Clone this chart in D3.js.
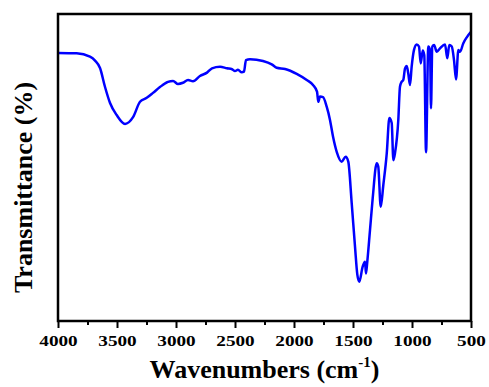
<!DOCTYPE html>
<html>
<head>
<meta charset="utf-8">
<script src="https://cdn.jsdelivr.net/npm/d3@7"></script>
<style>
  body { margin: 0; background: #fff; }
  text { font-family: "Liberation Serif", "Times New Roman", serif; font-weight: bold; }
</style>
</head>
<body>
<svg id="chart" width="489" height="387"></svg>
<script>
// FTIR spectrum
const wavenumbers = [4000, 3842, 3729, 3686, 3644, 3602, 3559, 3503, 3432, 3364, 3305, 3248, 3195, 3136,
  3068, 3025, 2983, 2941, 2898, 2856, 2797, 2737, 2695, 2627, 2568, 2525, 2500, 2475, 2443, 2424,
  2407, 2373, 2263, 2189, 2147, 2076, 1977, 1892, 1839, 1805, 1794, 1780, 1754, 1723, 1695, 1669,
  1638, 1596, 1562, 1540, 1511, 1483, 1463, 1447, 1418, 1398, 1390, 1379, 1356, 1333, 1299, 1286,
  1265, 1243, 1214, 1192, 1172, 1158, 1144, 1116, 1102, 1088, 1074, 1059, 1045, 1032, 1017, 1003,
  983, 960, 941, 926, 909, 896, 881, 862, 847, 839, 828, 813, 790, 763, 720, 701, 684, 663, 644,
  627, 607, 593, 565, 536, 500];
const transmittance = [87.3, 87.2, 86.1, 84.8, 82.4, 76.3, 71.0, 67.1, 64.2, 66.4, 71.4, 72.7, 74.3, 76.2,
  77.9, 78.2, 77.2, 77.6, 78.5, 78.1, 79.8, 80.9, 82.3, 82.8, 82.3, 82.0, 81.4, 81.8, 81.0, 81.2,
  85.0, 85.3, 84.7, 83.6, 82.5, 82.1, 80.5, 78.5, 76.9, 74.7, 71.4, 73.1, 72.9, 69.8, 65.5, 60.0,
  55.1, 51.9, 53.5, 51.9, 38.4, 24.2, 15.0, 12.8, 17.7, 19.3, 15.5, 19.3, 29.6, 40.0, 51.4, 50.3,
  37.2, 44.3, 54.6, 66.1, 64.5, 52.4, 54.7, 65.5, 76.3, 77.9, 78.5, 82.3, 83.1, 80.7, 76.9, 82.8,
  88.3, 90.1, 89.4, 83.9, 88.1, 86.6, 55.0, 89.4, 88.3, 69.3, 89.4, 89.9, 87.7, 88.8, 90.1, 85.6,
  89.9, 89.4, 85.0, 78.7, 88.3, 87.7, 90.5, 92.4, 94.2];
const majorTicks = [4000, 3500, 3000, 2500, 2000, 1500, 1000, 500];
const minorTicks = [3750, 3250, 2750, 2250, 1750, 1250, 750];

const data = wavenumbers.map((w, i) => ({ w: w, t: transmittance[i] }));

const plotLeft = 58, plotRight = 471, plotTop = 14, plotBottom = 321;
const svg = d3.select("#chart");

const x = d3.scaleLinear().domain([4000, 500]).range([plotLeft, plotRight]);
const y = d3.scaleLinear().domain([0, 100]).range([plotBottom, plotTop]);

// minor ticks first, then major ticks with labels
svg.append("g")
  .attr("transform", `translate(0,${plotBottom})`)
  .call(d3.axisBottom(x).tickValues(minorTicks).tickSize(4).tickFormat(""))
  .call(g => g.select(".domain").remove())
  .call(g => g.selectAll("line").attr("stroke", "#000").attr("stroke-width", 2));

const xAxis = svg.append("g")
  .attr("transform", `translate(0,${plotBottom})`)
  .call(d3.axisBottom(x).tickValues(majorTicks).tickSize(7).tickPadding(0).tickFormat(d3.format("d")))
  .call(g => g.select(".domain").remove());
xAxis.selectAll("line").attr("stroke", "#000").attr("stroke-width", 2);
xAxis.selectAll("text")
  .attr("y", 0).attr("dy", 0)
  .attr("font-size", 15)
  .attr("fill", "#000")
  .attr("font-family", "Liberation Serif")
  .attr("transform", "translate(0,25) scale(1.28,1)");

// line
const line = d3.line()
  .x(d => x(d.w))
  .y(d => y(d.t))
  .curve(d3.curveMonotoneX);

svg.append("path")
  .datum(data)
  .attr("fill", "none")
  .attr("stroke", "#0000ff")
  .attr("stroke-width", 2.5)
  .attr("stroke-linejoin", "round")
  .attr("d", line);

// frame
svg.append("rect")
  .attr("x", plotLeft).attr("y", plotTop)
  .attr("width", plotRight - plotLeft).attr("height", plotBottom - plotTop)
  .attr("fill", "none").attr("stroke", "#000").attr("stroke-width", 2.5);

// axis titles
const xt = svg.append("text")
  .attr("x", (plotLeft + plotRight) / 2).attr("y", 378)
  .attr("text-anchor", "middle")
  .attr("font-size", 26)
  .attr("fill", "#000");
xt.append("tspan").text("Wavenumbers (cm");
xt.append("tspan").attr("font-size", 15).attr("dy", -11).text("-1");
xt.append("tspan").attr("dy", 11).text(")");

svg.append("text")
  .attr("transform", `translate(32,${(plotTop + plotBottom) / 2 + 20}) rotate(-90)`)
  .attr("text-anchor", "middle")
  .attr("font-size", 26)
  .attr("fill", "#000")
  .text("Transmittance (%)");
</script>
</body>
</html>
